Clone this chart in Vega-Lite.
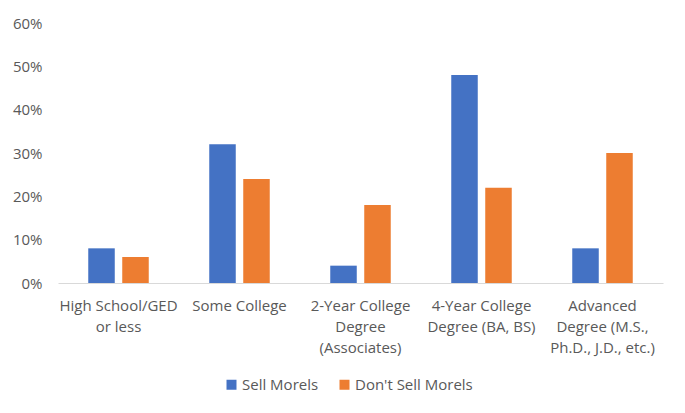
{
  "$schema": "https://vega.github.io/schema/vega-lite/v6.json",
  "width": 605,
  "height": 260,
  "autosize": {"type": "none"},
  "padding": {"left": 58, "top": 23, "right": 22, "bottom": 130},
  "background": "white",
  "config": {
    "view": {"stroke": null},
    "font": "Open Sans",
    "axis": {"labelFont": "Open Sans", "labelFontSize": 15, "labelColor": "#595959", "ticks": false, "grid": false, "title": null}
  },
  "data": {
    "values": [
      {"education": "High School/GED|or less", "group": "Sell Morels", "share": 0.08},
      {"education": "High School/GED|or less", "group": "Don't Sell Morels", "share": 0.06},
      {"education": "Some College", "group": "Sell Morels", "share": 0.32},
      {"education": "Some College", "group": "Don't Sell Morels", "share": 0.24},
      {"education": "2-Year College|Degree|(Associates)", "group": "Sell Morels", "share": 0.04},
      {"education": "2-Year College|Degree|(Associates)", "group": "Don't Sell Morels", "share": 0.18},
      {"education": "4-Year College|Degree (BA, BS)", "group": "Sell Morels", "share": 0.48},
      {"education": "4-Year College|Degree (BA, BS)", "group": "Don't Sell Morels", "share": 0.22},
      {"education": "Advanced|Degree (M.S.,|Ph.D., J.D., etc.)", "group": "Sell Morels", "share": 0.08},
      {"education": "Advanced|Degree (M.S.,|Ph.D., J.D., etc.)", "group": "Don't Sell Morels", "share": 0.30}
    ]
  },
  "mark": {"type": "bar"},
  "encoding": {
    "x": {
      "field": "education",
      "type": "nominal",
      "sort": null,
      "scale": {"paddingInner": 0.5, "paddingOuter": 0.25},
      "axis": {
        "labelAngle": 0,
        "labelExpr": "split(datum.label, '|')",
        "labelLineHeight": 21,
        "labelPadding": 15,
        "labelBaseline": "top",
        "labelLimit": 200,
        "domainColor": "#D9D9D9",
        "domainWidth": 1
      }
    },
    "xOffset": {
      "field": "group",
      "type": "nominal",
      "sort": ["Sell Morels", "Don't Sell Morels"],
      "scale": {"paddingInner": 0.22, "paddingOuter": 0}
    },
    "y": {
      "field": "share",
      "type": "quantitative",
      "scale": {"domain": [0, 0.6], "nice": false},
      "axis": {"format": ".0%", "values": [0, 0.1, 0.2, 0.3, 0.4, 0.5, 0.6], "domain": false, "labelPadding": 16}
    },
    "color": {
      "field": "group",
      "type": "nominal",
      "sort": ["Sell Morels", "Don't Sell Morels"],
      "scale": {"domain": ["Sell Morels", "Don't Sell Morels"], "range": ["#4472C4", "#ED7D31"]},
      "legend": {
        "title": null,
        "orient": "none",
        "legendX": 166,
        "legendY": 354,
        "direction": "horizontal",
        "symbolType": "square",
        "symbolSize": 100,
        "symbolStrokeWidth": 0,
        "labelOffset": 3,
        "labelFontSize": 15,
        "labelColor": "#595959",
        "labelFont": "Open Sans",
        "columnPadding": 18
      }
    }
  }
}
